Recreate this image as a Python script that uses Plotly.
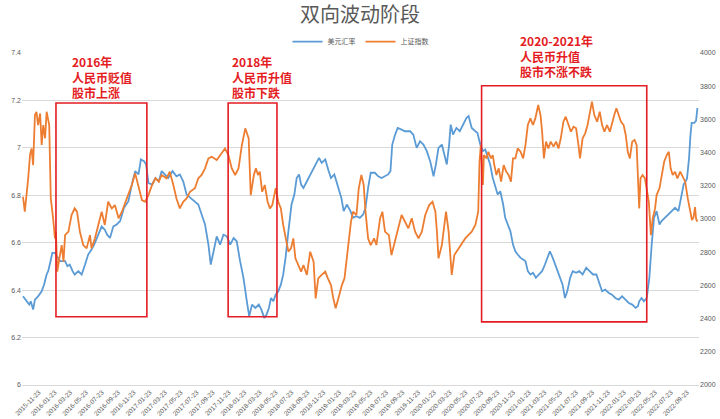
import plotly.graph_objects as go

title_text = "双向波动阶段"
series_names = ["美元汇率", "上证指数"]

usd_dates = [
    "2015-09-23", "2015-10-07", "2015-10-17", "2015-10-23", "2015-11-01", "2015-11-08", "2015-11-20",
    "2015-12-04", "2015-12-13", "2015-12-23", "2015-12-29", "2016-01-07", "2016-01-14", "2016-01-24",
    "2016-02-02", "2016-02-13", "2016-02-24", "2016-03-03", "2016-03-12", "2016-03-21", "2016-04-01",
    "2016-04-09", "2016-04-23", "2016-05-06", "2016-05-19", "2016-05-31", "2016-06-13", "2016-06-23",
    "2016-07-09", "2016-07-22", "2016-08-03", "2016-08-12", "2016-08-23", "2016-09-05", "2016-09-18",
    "2016-10-01", "2016-10-16", "2016-11-02", "2016-11-15", "2016-11-28", "2016-12-11", "2016-12-20",
    "2017-01-01", "2017-01-09", "2017-01-18", "2017-02-01", "2017-02-14", "2017-02-27", "2017-03-10",
    "2017-03-22", "2017-04-04", "2017-04-21", "2017-05-06", "2017-05-19", "2017-06-01", "2017-06-14",
    "2017-06-30", "2017-07-16", "2017-07-29", "2017-08-11", "2017-08-24", "2017-09-06", "2017-09-15",
    "2017-09-26", "2017-10-08", "2017-10-21", "2017-11-03", "2017-11-16", "2017-11-29", "2017-12-12",
    "2017-12-24", "2018-01-06", "2018-01-19", "2018-02-01", "2018-02-10", "2018-02-21", "2018-03-06",
    "2018-03-19", "2018-03-29", "2018-04-09", "2018-04-18", "2018-04-27", "2018-05-05", "2018-05-14",
    "2018-05-23", "2018-06-02", "2018-06-12", "2018-06-21", "2018-06-30", "2018-07-11", "2018-07-23",
    "2018-08-03", "2018-08-12", "2018-08-21", "2018-08-29", "2018-09-07", "2018-09-20", "2018-10-03",
    "2018-10-16", "2018-10-28", "2018-11-06", "2018-11-16", "2018-11-30", "2018-12-13", "2018-12-22",
    "2019-01-04", "2019-01-17", "2019-01-31", "2019-02-09", "2019-02-21", "2019-03-07", "2019-03-17",
    "2019-03-30", "2019-04-12", "2019-04-25", "2019-05-04", "2019-05-14", "2019-05-24", "2019-06-09",
    "2019-06-22", "2019-07-05", "2019-07-18", "2019-07-30", "2019-08-08", "2019-08-15", "2019-08-26",
    "2019-09-05", "2019-09-20", "2019-10-03", "2019-10-23", "2019-11-04", "2019-11-17", "2019-11-30",
    "2019-12-13", "2019-12-26", "2020-01-08", "2020-01-21", "2020-01-30", "2020-02-09", "2020-02-22",
    "2020-03-04", "2020-03-12", "2020-03-21", "2020-03-27", "2020-04-05", "2020-04-18", "2020-05-01",
    "2020-05-14", "2020-05-27", "2020-06-04", "2020-06-16", "2020-06-30", "2020-07-08", "2020-07-19",
    "2020-07-29", "2020-08-07", "2020-08-16", "2020-08-26", "2020-09-05", "2020-09-15", "2020-09-24",
    "2020-10-04", "2020-10-15", "2020-10-23", "2020-11-01", "2020-11-12", "2020-11-22", "2020-12-01",
    "2020-12-10", "2020-12-21", "2020-12-31", "2021-01-09", "2021-01-18", "2021-01-28", "2021-02-07",
    "2021-02-18", "2021-03-02", "2021-03-14", "2021-03-25", "2021-04-07", "2021-04-13", "2021-04-24",
    "2021-05-04", "2021-05-12", "2021-05-22", "2021-06-01", "2021-06-10", "2021-06-19", "2021-06-30",
    "2021-07-10", "2021-07-23", "2021-08-04", "2021-08-17", "2021-08-31", "2021-09-13", "2021-09-26",
    "2021-10-09", "2021-10-18", "2021-10-31", "2021-11-12", "2021-11-26", "2021-12-08", "2021-12-21",
    "2022-01-03", "2022-01-16", "2022-01-29", "2022-02-11", "2022-02-24", "2022-03-09", "2022-03-18",
    "2022-03-23", "2022-04-01", "2022-04-10", "2022-04-21", "2022-05-01", "2022-05-10", "2022-05-19",
    "2022-05-29", "2022-06-09", "2022-06-17", "2022-07-01", "2022-07-14", "2022-07-26", "2022-08-08",
    "2022-08-21", "2022-08-30", "2022-09-10", "2022-09-23", "2022-10-01", "2022-10-06", "2022-10-11",
    "2022-10-21", "2022-10-28", "2022-11-02",
]
usd_values = [
    6.374, 6.353, 6.339, 6.353, 6.318, 6.360, 6.374,
    6.395, 6.423, 6.466, 6.480, 6.522, 6.557, 6.557,
    6.543, 6.522, 6.522, 6.522, 6.501, 6.508, 6.480,
    6.466, 6.480, 6.466, 6.508, 6.550, 6.571, 6.592,
    6.634, 6.669, 6.655, 6.634, 6.620, 6.669, 6.677,
    6.691, 6.747, 6.775, 6.845, 6.902, 6.888, 6.951,
    6.944, 6.930, 6.852, 6.845, 6.873, 6.859, 6.902,
    6.888, 6.873, 6.902, 6.880, 6.888, 6.859, 6.803,
    6.789, 6.775, 6.761, 6.719, 6.677, 6.592, 6.508,
    6.564, 6.627, 6.592, 6.634, 6.627, 6.592, 6.620,
    6.606, 6.522, 6.452, 6.353, 6.290, 6.339, 6.325,
    6.339, 6.318, 6.283, 6.297, 6.325, 6.367, 6.353,
    6.381, 6.395, 6.423, 6.466, 6.536, 6.648, 6.761,
    6.803, 6.873, 6.888, 6.845, 6.831, 6.859, 6.888,
    6.916, 6.944, 6.958, 6.937, 6.951, 6.902, 6.873,
    6.888, 6.845, 6.789, 6.733, 6.761, 6.733, 6.705,
    6.712, 6.705, 6.719, 6.747, 6.831, 6.895, 6.895,
    6.880, 6.873, 6.880, 6.888, 6.902, 7.014, 7.056,
    7.084, 7.077, 7.070, 7.070, 7.056, 7.000, 7.028,
    7.014, 6.986, 6.944, 6.880, 6.930, 7.000, 7.014,
    6.972, 6.930, 7.014, 7.098, 7.056, 7.084, 7.070,
    7.098, 7.127, 7.134, 7.084, 7.070, 7.063, 7.014,
    6.986, 6.993, 6.958, 6.930, 6.873, 6.831, 6.803,
    6.817, 6.761, 6.705, 6.677, 6.648, 6.592, 6.564,
    6.550, 6.536, 6.529, 6.522, 6.480, 6.466, 6.473,
    6.452, 6.466, 6.480, 6.508, 6.550, 6.564, 6.536,
    6.508, 6.480, 6.452, 6.423, 6.367, 6.395, 6.452,
    6.480, 6.473, 6.480, 6.466, 6.494, 6.480, 6.466,
    6.466, 6.437, 6.395, 6.402, 6.388, 6.381, 6.367,
    6.360, 6.374, 6.360, 6.346, 6.339, 6.325, 6.332,
    6.353, 6.367, 6.353, 6.367, 6.452, 6.592, 6.705,
    6.733, 6.677, 6.691, 6.705, 6.719, 6.733, 6.747,
    6.733, 6.789, 6.845, 6.870, 6.958, 7.050, 7.105,
    7.105, 7.115, 7.168,
]

sse_dates = [
    "2015-09-23", "2015-09-30", "2015-10-13", "2015-10-20", "2015-10-26", "2015-11-01", "2015-11-08",
    "2015-11-14", "2015-11-20", "2015-11-28", "2015-12-04", "2015-12-10", "2015-12-17", "2015-12-23",
    "2016-01-02", "2016-01-08", "2016-01-17", "2016-01-24", "2016-01-28", "2016-02-02", "2016-02-10",
    "2016-02-19", "2016-02-26", "2016-03-03", "2016-03-16", "2016-03-28", "2016-04-09", "2016-04-18",
    "2016-04-29", "2016-05-12", "2016-05-25", "2016-06-07", "2016-06-13", "2016-06-26", "2016-07-09",
    "2016-07-22", "2016-08-03", "2016-08-16", "2016-08-30", "2016-09-11", "2016-09-25", "2016-10-08",
    "2016-10-27", "2016-11-15", "2016-11-28", "2016-12-11", "2016-12-24", "2017-01-05", "2017-01-18",
    "2017-02-01", "2017-02-14", "2017-02-27", "2017-03-10", "2017-03-29", "2017-04-10", "2017-04-24",
    "2017-05-06", "2017-05-19", "2017-06-01", "2017-06-14", "2017-06-27", "2017-07-16", "2017-07-29",
    "2017-08-11", "2017-08-24", "2017-09-06", "2017-09-19", "2017-10-08", "2017-10-28", "2017-11-09",
    "2017-11-22", "2017-12-05", "2017-12-18", "2017-12-31", "2018-01-13", "2018-01-26", "2018-02-08",
    "2018-02-16", "2018-02-28", "2018-03-08", "2018-03-16", "2018-03-23", "2018-04-01", "2018-04-11",
    "2018-04-22", "2018-05-01", "2018-05-10", "2018-05-23", "2018-06-02", "2018-06-12", "2018-06-21",
    "2018-06-30", "2018-07-11", "2018-07-21", "2018-07-30", "2018-08-07", "2018-08-18", "2018-08-29",
    "2018-09-07", "2018-09-20", "2018-10-03", "2018-10-16", "2018-10-24", "2018-11-03", "2018-11-16",
    "2018-11-30", "2018-12-10", "2018-12-22", "2018-12-31", "2019-01-09", "2019-01-23", "2019-02-02",
    "2019-02-12", "2019-02-21", "2019-03-03", "2019-03-09", "2019-03-17", "2019-03-30", "2019-04-08",
    "2019-04-18", "2019-04-27", "2019-05-04", "2019-05-14", "2019-05-24", "2019-06-06", "2019-06-15",
    "2019-06-29", "2019-07-08", "2019-07-18", "2019-08-02", "2019-08-12", "2019-08-26", "2019-09-07",
    "2019-09-20", "2019-10-03", "2019-10-16", "2019-10-29", "2019-11-11", "2019-11-24", "2019-12-07",
    "2019-12-20", "2020-01-04", "2020-01-17", "2020-01-28", "2020-02-03", "2020-02-09", "2020-02-22",
    "2020-03-04", "2020-03-09", "2020-03-19", "2020-03-31", "2020-04-10", "2020-04-26", "2020-05-11",
    "2020-05-22", "2020-06-03", "2020-06-16", "2020-06-30", "2020-07-11", "2020-07-16", "2020-07-21",
    "2020-07-29", "2020-08-02", "2020-08-13", "2020-08-19", "2020-08-29", "2020-09-05", "2020-09-11",
    "2020-09-19", "2020-09-28", "2020-10-07", "2020-10-17", "2020-10-27", "2020-11-05", "2020-11-14",
    "2020-11-22", "2020-12-01", "2020-12-10", "2020-12-21", "2020-12-31", "2021-01-09", "2021-01-18",
    "2021-01-28", "2021-02-07", "2021-02-16", "2021-02-27", "2021-03-08", "2021-03-14", "2021-03-21",
    "2021-03-29", "2021-04-07", "2021-04-16", "2021-04-27", "2021-05-07", "2021-05-16", "2021-05-25",
    "2021-06-04", "2021-06-13", "2021-06-24", "2021-07-03", "2021-07-13", "2021-07-23", "2021-08-01",
    "2021-08-07", "2021-08-17", "2021-08-27", "2021-09-05", "2021-09-13", "2021-09-22", "2021-10-01",
    "2021-10-12", "2021-10-22", "2021-10-31", "2021-11-09", "2021-11-19", "2021-11-30", "2021-12-08",
    "2021-12-17", "2021-12-25", "2022-01-03", "2022-01-12", "2022-01-22", "2022-01-30", "2022-02-07",
    "2022-02-15", "2022-02-24", "2022-03-05", "2022-03-13", "2022-03-17", "2022-03-23", "2022-03-28",
    "2022-04-05", "2022-04-14", "2022-04-21", "2022-04-29", "2022-05-07", "2022-05-14", "2022-05-23",
    "2022-05-29", "2022-06-09", "2022-06-17", "2022-06-27", "2022-07-07", "2022-07-15", "2022-07-22",
    "2022-07-30", "2022-08-08", "2022-08-17", "2022-08-28", "2022-09-07", "2022-09-16", "2022-09-26",
    "2022-10-06", "2022-10-12", "2022-10-18", "2022-10-24", "2022-10-28", "2022-11-02",
]
sse_values = [
    3134, 3044, 3245, 3385, 3425, 3325, 3626,
    3646, 3566, 3636, 3446, 3566, 3486, 3646,
    3566, 3124, 3004, 2883, 2924, 2683, 2763,
    2843, 2743, 2903, 2924, 3024, 3064, 3044,
    2924, 2843, 2823, 2903, 2823, 2883, 2964,
    3044, 2964, 3104, 3064, 3084, 3004, 3044,
    3124, 3205, 3275, 3185, 3114, 3104, 3144,
    3205, 3245, 3225, 3265, 3245, 3285, 3205,
    3124, 3064, 3104, 3124, 3164, 3185, 3245,
    3265, 3305, 3365, 3375, 3355, 3395, 3425,
    3385, 3305, 3265, 3305, 3446, 3546, 3486,
    3144, 3265, 3305, 3265, 3285, 3164, 3205,
    3104, 3064, 3084, 3185, 3104, 3064, 2964,
    2883, 2803, 2823, 2883, 2763, 2723, 2683,
    2723, 2663, 2803, 2743, 2522, 2642, 2663,
    2683, 2642, 2602, 2522, 2462, 2542, 2602,
    2642, 2763, 2883, 2984, 3044, 3024, 3185,
    3265, 3205, 3044, 2883, 2843, 2883, 2843,
    3004, 3044, 2924, 2903, 2783, 2863, 2944,
    3024, 2984, 2944, 3004, 2924, 2883, 2924,
    3024, 3084, 3104, 3044, 2924, 2763, 2843,
    2984, 3044, 2924, 2663, 2783, 2823, 2863,
    2883, 2903, 2924, 2964, 3044, 3345, 3446,
    3205, 3385, 3365, 3405, 3365, 3385, 3325,
    3265, 3305, 3225, 3325, 3285, 3265, 3225,
    3365, 3365, 3425, 3405, 3365, 3446, 3566,
    3606, 3566, 3606, 3687, 3626, 3526, 3365,
    3466, 3425, 3466, 3436, 3466, 3425, 3486,
    3586, 3616, 3566, 3526, 3556, 3546, 3446,
    3365, 3486, 3516, 3566, 3646, 3707, 3626,
    3586, 3646, 3566, 3526, 3566, 3526, 3566,
    3626, 3667, 3626, 3586, 3566, 3506, 3405,
    3365, 3466, 3476, 3446, 3285, 3064, 3245,
    3265, 3245, 3185, 3104, 2903, 3004, 3064,
    3144, 3185, 3265, 3345, 3385, 3405, 3305,
    3265, 3285, 3245, 3285, 3255, 3225, 3124,
    3044, 2994, 3010, 3072, 3000, 2984,
]

tick_labels = [
    "2015-09-23", "2015-11-23", "2016-01-23", "2016-03-23", "2016-05-23", "2016-07-23",
    "2016-09-23", "2016-11-23", "2017-01-23", "2017-03-23", "2017-05-23", "2017-07-23",
    "2017-09-23", "2017-11-23", "2018-01-23", "2018-03-23", "2018-05-23", "2018-07-23",
    "2018-09-23", "2018-11-23", "2019-01-23", "2019-03-23", "2019-05-23", "2019-07-23",
    "2019-09-23", "2019-11-23", "2020-01-23", "2020-03-23", "2020-05-23", "2020-07-23",
    "2020-09-23", "2020-11-23", "2021-01-23", "2021-03-23", "2021-05-23", "2021-07-23",
    "2021-09-23", "2021-11-23", "2022-01-23", "2022-03-23", "2022-05-23", "2022-07-23",
    "2022-09-23",
]
left_ticks = [6, 6.2, 6.4, 6.6, 6.8, 7, 7.2, 7.4]
right_ticks = [2000, 2200, 2400, 2600, 2800, 3000, 3200, 3400, 3600, 3800, 4000]

# highlighted phases: start, end, lower, upper (left-axis units)
phase_starts = ["2016-01-28", "2017-11-21", "2020-07-24"]
phase_ends = ["2017-01-12", "2018-05-28", "2022-04-21"]
phase_lows = [6.288, 6.288, 6.266]
phase_highs = [7.189, 7.189, 7.262]
phase_notes = [
    ["2016年", "人民币贬值", "股市上涨"],
    ["2018年", "人民币升值", "股市下跌"],
    ["2020-2021年", "人民币升值", "股市不涨不跌"],
]
note_dates = ["2016-03-22", "2017-11-28", "2020-12-11"]
note_levels = [7.297, 7.297, 7.389]

BLUE = "#5b9bd5"
ORANGE = "#ed7d31"
RED = "#e41c23"
GREY = "#595959"
GRID = "#d9d9d9"
CJK = "Noto Sans CJK SC"

fig = go.Figure()
fig.add_trace(go.Scatter(x=usd_dates, y=usd_values, name=series_names[0], mode="lines",
                         line=dict(color=BLUE, width=1.8), yaxis="y"))
fig.add_trace(go.Scatter(x=sse_dates, y=sse_values, name=series_names[1], mode="lines",
                         line=dict(color=ORANGE, width=1.8), yaxis="y2"))

for s, e, lo, hi in zip(phase_starts, phase_ends, phase_lows, phase_highs):
    fig.add_shape(type="rect", xref="x", yref="y", x0=s, x1=e, y0=lo, y1=hi,
                  line=dict(color=RED, width=1.6), fillcolor="rgba(0,0,0,0)", layer="above")

for lines, d, lvl in zip(phase_notes, note_dates, note_levels):
    fig.add_annotation(x=d, y=lvl, xref="x", yref="y", showarrow=False,
                       text="<br>".join(f"<b>{t}</b>" for t in lines),
                       xanchor="left", yanchor="middle", align="left",
                       font=dict(family=CJK, size=12, color=RED))

fig.update_layout(
    width=720, height=419,
    margin=dict(l=22, r=21, t=53, b=34, pad=0),
    paper_bgcolor="white", plot_bgcolor="white",
    title=dict(text=title_text, x=0.5, xanchor="center", y=1 - 15 / 419, yanchor="middle",
               yref="container", font=dict(family=CJK, size=20, color=GREY)),
    showlegend=True,
    legend=dict(orientation="h", x=0.5, xanchor="center", y=1.034, yanchor="middle",
                font=dict(family=CJK, size=7, color=GREY), bgcolor="rgba(0,0,0,0)",
                itemwidth=30, tracegroupgap=0),
    xaxis=dict(type="date", range=["2015-09-19 04:00", "2022-11-08 05:00"],
               tickvals=tick_labels, ticktext=tick_labels, tickangle=-45,
               tickfont=dict(family="Liberation Sans", size=6.5, color=GREY),
               showgrid=False, zeroline=False, showline=True, linecolor=GRID, linewidth=1,
               ticks="", automargin=False, fixedrange=True),
    yaxis=dict(range=[6, 7.4], tickvals=left_ticks, showgrid=True, gridcolor=GRID, gridwidth=1,
               zeroline=False, showline=False, ticks="",
               tickfont=dict(family="Liberation Sans", size=7, color=GREY), automargin=False),
    yaxis2=dict(range=[2000, 4000], tickvals=right_ticks, overlaying="y", side="right",
                showgrid=False, zeroline=False, showline=False, ticks="",
                tickfont=dict(family="Liberation Sans", size=7, color=GREY), automargin=False),
)

fig.write_html("out.html")
